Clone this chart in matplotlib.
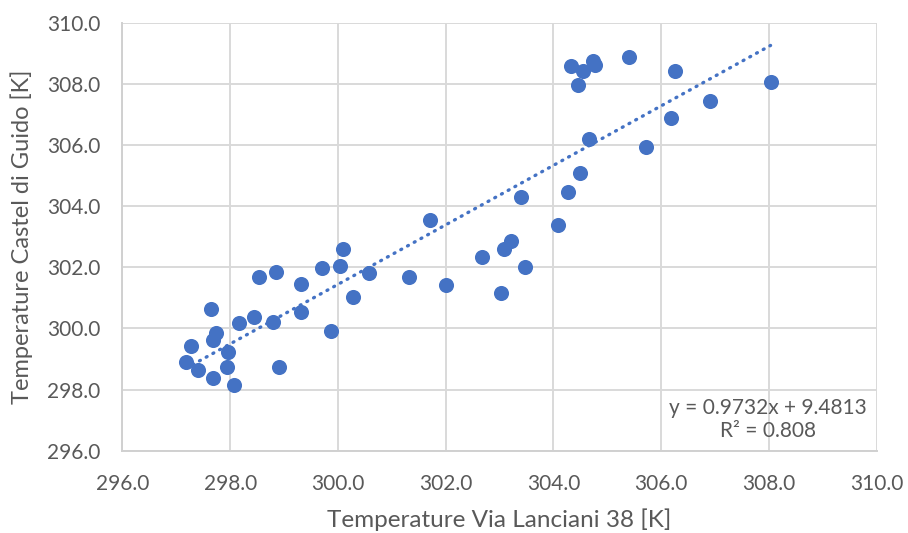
import matplotlib.pyplot as plt
import numpy as np

plt.rcParams['font.family'] = ['Lato', 'DejaVu Sans']

# readings
via_lanciani = [301.70, 300.09, 300.04, 299.70, 298.85, 300.58,
                298.54, 299.32, 301.32, 302.00, 300.28, 297.64, 299.32,
                298.45, 298.17, 298.80, 297.73, 297.68, 299.87, 297.28,
                297.95, 297.18, 297.41, 297.94, 298.90, 297.68, 298.07,
                304.33, 304.55, 304.73, 304.78, 304.46, 305.40, 306.25,
                308.03, 306.90, 306.18, 304.66, 305.71, 304.49, 304.27,
                303.39, 304.09, 303.22, 303.08, 302.68, 303.48, 303.02]
castel_guido = [303.55, 302.59, 302.05, 301.97, 301.84, 301.82,
                301.67, 301.45, 301.67, 301.41, 301.04, 300.65, 300.53,
                300.36, 300.17, 300.20, 299.86, 299.62, 299.91, 299.42,
                299.23, 298.89, 298.64, 298.73, 298.73, 298.38, 298.14,
                308.59, 308.42, 308.76, 308.62, 307.96, 308.87, 308.42,
                308.07, 307.45, 306.87, 306.19, 305.93, 305.07, 304.47,
                304.31, 303.38, 302.87, 302.59, 302.35, 302.00, 301.17]
slope = 0.9732
intercept = 9.4813
r2 = 0.808

blue = '#4472C4'
grey = '#595959'

fig = plt.figure(figsize=(9.08, 5.33), dpi=100)
ax = fig.add_axes([0.1349, 0.1544, 0.8306, 0.8030])

ax.scatter(via_lanciani, castel_guido, s=118, color=blue, zorder=3, linewidths=0)

xs = np.array([min(via_lanciani), max(via_lanciani)])
ax.plot(xs, slope * xs + intercept, color=blue, linewidth=2.4,
        linestyle=(0, (0.3, 2.0)), dash_capstyle='round', zorder=2)

ax.set_xlim(296, 310)
ax.set_ylim(296, 310)
ticks = np.arange(296, 311, 2)
ax.set_xticks(ticks)
ax.set_yticks(ticks)
ax.set_xticklabels([f'{t:.1f}' for t in ticks])
ax.set_yticklabels([f'{t:.1f}' for t in ticks])
ax.tick_params(length=0, labelsize=15, colors=grey)
ax.tick_params(axis='x', pad=17)
ax.tick_params(axis='y', pad=16)

ax.grid(True, color='#D9D9D9', linewidth=1.4)
ax.set_axisbelow(True)
for side in ['top', 'right']:
    ax.spines[side].set_visible(False)
for side in ['left', 'bottom']:
    ax.spines[side].set_color('#D0D0D0')
    ax.spines[side].set_linewidth(1.4)

ax.set_xlabel('Temperature Via Lanciani 38 [K]', fontsize=17.5, color=grey, labelpad=10)
ax.set_ylabel('Temperature Castel di Guido [K]', fontsize=17, color=grey, labelpad=10)

ax.text(0.856, 0.072, f'y = {slope}x + {intercept}\nR² = {r2}', transform=ax.transAxes,
        ha='center', va='center', fontsize=15, color=grey, linespacing=1.2)

fig.savefig('out.png', dpi=100)
